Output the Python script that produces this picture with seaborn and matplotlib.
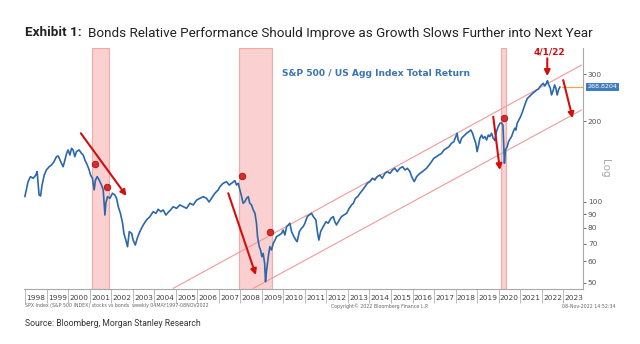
import matplotlib
matplotlib.use("Agg")
import matplotlib.pyplot as plt
import numpy as np
import pandas as pd
import seaborn as sns
from matplotlib.ticker import FixedLocator, FixedFormatter, NullFormatter

# S&P 500 / US Agg total-return ratio, weekly (decimal years)
years = [
    1997.99, 1998.04, 1998.14, 1998.25, 1998.38, 1998.50, 1998.56, 1998.65, 1998.72, 1998.79,
    1998.89, 1998.99, 1999.12, 1999.23, 1999.34, 1999.46, 1999.54, 1999.62, 1999.69, 1999.77,
    1999.85, 1999.93, 2000.00, 2000.08, 2000.16, 2000.23, 2000.31, 2000.39, 2000.51, 2000.62,
    2000.70, 2000.78, 2000.89, 2000.98, 2001.04, 2001.13, 2001.21, 2001.27, 2001.35, 2001.44,
    2001.55, 2001.63, 2001.71, 2001.75, 2001.83, 2001.94, 2002.06, 2002.17, 2002.25, 2002.33,
    2002.43, 2002.53, 2002.59, 2002.68, 2002.76, 2002.84, 2002.95, 2003.02, 2003.12, 2003.21,
    2003.33, 2003.49, 2003.64, 2003.80, 2003.95, 2004.08, 2004.18, 2004.31, 2004.42, 2004.54,
    2004.65, 2004.76, 2004.88, 2005.04, 2005.19, 2005.35, 2005.50, 2005.66, 2005.81, 2005.97,
    2006.12, 2006.28, 2006.43, 2006.55, 2006.66, 2006.82, 2006.97,
    2007.05, 2007.20, 2007.36, 2007.48, 2007.59, 2007.75, 2007.82, 2007.90, 2007.98, 2008.06,
    2008.13, 2008.21, 2008.29, 2008.37, 2008.44, 2008.52, 2008.60, 2008.68, 2008.75, 2008.80,
    2008.88, 2008.94, 2009.00, 2009.06, 2009.13, 2009.17, 2009.22, 2009.30, 2009.37, 2009.45,
    2009.53, 2009.61, 2009.68, 2009.81, 2009.92, 2009.99, 2010.07, 2010.15, 2010.23, 2010.30,
    2010.38, 2010.49, 2010.58, 2010.64, 2010.74, 2010.84, 2010.92, 2011.00, 2011.11, 2011.20,
    2011.31, 2011.39, 2011.51, 2011.59, 2011.65, 2011.73, 2011.85, 2011.98, 2012.08, 2012.21,
    2012.32, 2012.39, 2012.47, 2012.60, 2012.70, 2012.81, 2012.94, 2013.06, 2013.17, 2013.25,
    2013.35, 2013.45, 2013.56, 2013.68, 2013.79, 2013.90, 2014.02, 2014.13, 2014.25, 2014.36,
    2014.48, 2014.59, 2014.72, 2014.83, 2014.95, 2015.07, 2015.18, 2015.29, 2015.41, 2015.54,
    2015.65, 2015.76, 2015.88, 2015.96, 2016.08, 2016.19, 2016.31,
    2016.46, 2016.65, 2016.77, 2016.88, 2016.99, 2017.11, 2017.22, 2017.35, 2017.46, 2017.58,
    2017.69, 2017.81, 2017.92, 2018.01, 2018.07, 2018.12, 2018.20, 2018.28, 2018.35, 2018.43,
    2018.51, 2018.62, 2018.71, 2018.79, 2018.86, 2018.94, 2019.00, 2019.07, 2019.13, 2019.21,
    2019.28, 2019.36, 2019.44, 2019.52, 2019.59, 2019.67, 2019.75, 2019.83, 2019.90, 2019.98,
    2020.06, 2020.13, 2020.20, 2020.24, 2020.27, 2020.32, 2020.40, 2020.46, 2020.52, 2020.60,
    2020.68, 2020.75, 2020.80, 2020.86, 2020.94, 2021.02, 2021.11, 2021.19, 2021.27, 2021.34,
    2021.42, 2021.50, 2021.61, 2021.68, 2021.76, 2021.84, 2021.92, 2021.99, 2022.07, 2022.15,
    2022.23, 2022.27, 2022.33, 2022.40, 2022.46, 2022.54, 2022.60, 2022.66, 2022.72, 2022.78,
    2022.85,
]
ratio = [
    104.7, 109.3, 119.1, 124.3, 122.6, 126.1, 129.8, 106.2, 105.3, 115.7,
    126.1, 131.6, 135.4, 137.4, 141.3, 147.6, 148.5, 143.5, 139.4, 135.4,
    143.5, 151.9, 156.4, 149.7, 158.6, 156.4, 147.6, 154.1, 156.4, 151.9,
    149.7, 143.5, 137.4, 131.6, 126.1, 122.6, 110.9, 120.8, 124.3, 120.8,
    115.7, 110.9, 89.4, 98.9, 104.7, 103.2, 107.8, 106.2, 103.2, 96.0,
    90.7, 83.3, 76.4, 72.1, 68.1, 77.5, 76.4, 72.1, 69.1, 73.2,
    77.5, 82.1, 85.7, 88.2, 92.0, 90.7, 93.9, 92.0, 93.4, 89.4,
    91.5, 93.4, 96.0, 94.7, 97.5, 96.0, 94.7, 98.9, 97.5, 101.7,
    103.2, 104.7, 103.2, 100.0, 103.2, 107.8, 110.9,
    114.0, 117.4, 119.1, 115.7, 117.4, 120.1, 115.7, 117.4, 110.9, 104.7,
    98.9, 100.3, 103.2, 104.7, 98.9, 97.5, 93.4, 90.7, 83.3, 74.2,
    68.1, 66.2, 62.5, 64.3, 59.0, 50.4, 55.7, 62.5, 68.1, 66.2,
    70.1, 72.1, 74.2, 75.3, 76.4, 78.6, 75.3, 80.9, 82.1, 83.3,
    77.5, 74.2, 72.1, 71.1, 77.5, 79.8, 80.9, 83.3, 88.2, 89.4,
    90.7, 88.2, 85.7, 76.4, 72.1, 77.5, 80.9, 84.4, 83.3, 86.9,
    88.2, 84.4, 82.1, 85.7, 88.2, 89.4, 90.7, 94.7, 97.5, 98.9,
    103.2, 104.7, 107.8, 110.9, 114.0, 117.4, 119.1, 122.6, 120.8, 124.3,
    126.1, 122.6, 127.9, 129.8, 127.9, 131.6, 133.6, 129.8, 133.6, 135.4,
    131.6, 133.6, 129.8, 124.3, 119.1, 124.3, 127.2,
    129.8, 133.6, 137.4, 141.3, 145.6, 147.6, 149.7, 151.9, 156.4, 158.6,
    160.8, 165.6, 167.9, 175.3, 180.5, 170.4, 165.6, 172.9, 175.3, 177.8,
    180.5, 183.0, 185.6, 180.5, 172.9, 165.6, 154.1, 163.2, 172.9, 177.8,
    172.9, 175.3, 170.4, 177.8, 175.3, 180.5, 172.9, 169.4, 183.0, 191.0,
    196.6, 197.6, 193.8, 160.8, 139.4, 156.4, 160.8, 167.9, 171.4, 175.3,
    183.0, 188.4, 185.6, 196.6, 202.3, 208.1, 217.3, 226.8, 236.7, 243.8,
    247.1, 250.8, 255.7, 257.9, 261.7, 263.3, 269.3, 273.3, 277.3, 270.9,
    278.7, 283.5, 273.3, 265.7, 250.8, 261.7, 273.3, 265.7, 250.8, 261.7,
    268.8204,
]
last_value = 268.8204

# NBER recessions (start, end)
recession_start = [2001.13, 2007.93, 2020.10]
recession_end = [2001.90, 2009.48, 2020.35]

# Fed easing markers
marker_years = [2001.27, 2001.79, 2008.06, 2009.37, 2020.25]
marker_values = [138.3, 113.5, 125.4, 77.5, 206.4]

# Trend channel (two parallel lines on the log scale)
upper_years = [2004.88, 2023.86]
upper_values = [47.6, 324.6]
lower_years = [2008.60, 2023.86]
lower_values = [47.6, 220.6]

# Drawdown arrows: (start year, start value, end year, end value)
arrow_x0 = [2000.59, 2007.44, 2019.75, 2023.00, 2022.26]
arrow_y0 = [180.5, 107.8, 208.1, 285.0, 343.6]
arrow_x1 = [2002.71, 2008.72, 2020.06, 2023.44, 2022.26]
arrow_y1 = [105.3, 53.4, 131.6, 205.4, 295.0]

year_labels = [str(y) for y in range(1998, 2024)]
y_ticks = [50, 60, 70, 80, 90, 100, 200, 300]

W, H = 640, 344
sns.set_style("white")
plt.rcParams["font.family"] = ["DejaVu Sans"]

fig = plt.figure(figsize=(W / 100, H / 100), dpi=100)
ax = fig.add_axes([24 / W, (H - 289) / H, 559 / W, 241 / H])

xmin, xmax = 1997.95, 2023.92
ymin, ymax = 47.35, 375.5

blue = "#2b68aa"
red = "#d40d0d"

for s, e in zip(recession_start, recession_end):
    ax.axvspan(s, e, facecolor="#fbd0d0", edgecolor="#f4a9a9", linewidth=0.8, zorder=0)

ax.plot(upper_years, upper_values, color="#f09a9a", lw=0.8, zorder=1)
ax.plot(lower_years, lower_values, color="#f09a9a", lw=0.8, zorder=1)

df = pd.DataFrame({"year": years, "ratio": ratio})
sns.lineplot(data=df, x="year", y="ratio", ax=ax, color=blue, linewidth=1.2,
             estimator=None, sort=False, zorder=3)

ax.plot([2022.95, xmax], [last_value, last_value], color="#f2a44c", lw=0.9, zorder=2,
        clip_on=False)

ax.scatter(marker_years, marker_values, s=22, color="#d92b2b", edgecolor="#a81010",
           linewidth=0.6, zorder=5)

for x0, y0, x1, y1 in zip(arrow_x0, arrow_y0, arrow_x1, arrow_y1):
    ax.annotate("", xy=(x1, y1), xytext=(x0, y0),
                arrowprops=dict(arrowstyle="-|>", color=red, lw=1.5, mutation_scale=8.5,
                                shrinkA=0, shrinkB=0),
                annotation_clip=False, zorder=6)

ax.text(2022.36, 364, "4/1/22", color=red, fontsize=6.5, fontweight="bold",
        ha="center", va="center", clip_on=False)

ax.text(0.4615, 0.896, "S&P 500 / US Agg Index Total Return", transform=ax.transAxes,
        color="#3a74b2", fontsize=6.6, fontweight="bold", ha="left", va="center")

ax.set_yscale("log")
ax.set_xlim(xmin, xmax)
ax.set_ylim(ymin, ymax)
ax.set_xlabel("")
ax.set_ylabel("")

# x axis: year separators as major ticks, year names centred on minor ticks
ax.xaxis.set_major_locator(FixedLocator(list(range(1998, 2025))))
ax.xaxis.set_major_formatter(NullFormatter())
ax.xaxis.set_minor_locator(FixedLocator([y + 0.5 for y in range(1998, 2024)]))
ax.xaxis.set_minor_formatter(FixedFormatter(year_labels))
ax.tick_params(axis="x", which="major", length=10, width=0.6, color="#b0b0b0",
               direction="out", bottom=True)
ax.tick_params(axis="x", which="minor", length=0, pad=4.5, labelsize=5.3,
               labelcolor="#404040", bottom=True)

# y axis on the right, log scale
ax.yaxis.tick_right()
ax.yaxis.set_major_locator(FixedLocator(y_ticks))
ax.yaxis.set_major_formatter(FixedFormatter([str(v) for v in y_ticks]))
ax.yaxis.set_minor_locator(FixedLocator([]))
ax.tick_params(axis="y", which="major", length=2, width=0.6, color="#555555",
               direction="out", right=True, left=False, pad=1.5, labelsize=5.3,
               labelcolor="#555555")

for side in ["top", "left"]:
    ax.spines[side].set_visible(False)
for side in ["bottom", "right"]:
    ax.spines[side].set_color("#a8a8a8")
    ax.spines[side].set_linewidth(0.8)
ax.grid(False)

ax.annotate(f"{last_value:.4f}", xy=(1.0, last_value), xycoords=("axes fraction", "data"),
            xytext=(3.2, 0), textcoords="offset points", ha="left", va="center",
            fontsize=4.6, color="white",
            bbox=dict(boxstyle="square,pad=0.2", fc="#3f7dc0", ec="none"),
            annotation_clip=False)

fig.text(605 / W, 1 - 168 / H, "Log", rotation=270, color="#a9a9a9", fontsize=7.5,
         ha="center", va="center")

# Footnotes under the axis
fig.text(25 / W, 1 - 306 / H, "SPX Index (S&P 500 INDEX) stocks vs bonds  weekly 04MAY1997-08NOV2022",
         fontsize=3.4, color="#666666", ha="left", va="center")
fig.text(380 / W, 1 - 306 / H, "Copyright\u00a9 2022 Bloomberg Finance L.P.",
         fontsize=3.4, color="#666666", ha="center", va="center")
fig.text(615 / W, 1 - 306 / H, "08-Nov-2022 14:52:34",
         fontsize=3.4, color="#666666", ha="right", va="center")

renderer = fig.canvas.get_renderer()


def fitted_size(s, width_px, **kw):
    t = fig.text(0, 0, s, fontsize=10, **kw)
    w = t.get_window_extent(renderer).width
    t.remove()
    return 10 * width_px / w


# Title: bold lead-in followed by the regular headline, both at one size
title_rest = "Bonds Relative Performance Should Improve as Growth Slows Further into Next Year"
size = fitted_size(title_rest, 505, family="Roboto")
lead = fig.text(25 / W, 1 - 33 / H, "Exhibit 1:", fontsize=size, fontweight="bold",
                color="#222222", family="Roboto", ha="left", va="center")
lead_end = lead.get_window_extent(renderer).x1
fig.text((lead_end + 6) / W, 1 - 33 / H, title_rest, fontsize=size, color="#222222",
         family="Roboto", ha="left", va="center")

src_size = fitted_size("Source: Bloomberg, Morgan Stanley Research", 176, family="Roboto")
fig.text(25 / W, 1 - 323 / H, "Source: Bloomberg, Morgan Stanley Research", fontsize=src_size,
         color="#333333", family="Roboto", ha="left", va="center")

fig.savefig("out.png", dpi=100, facecolor="white")
